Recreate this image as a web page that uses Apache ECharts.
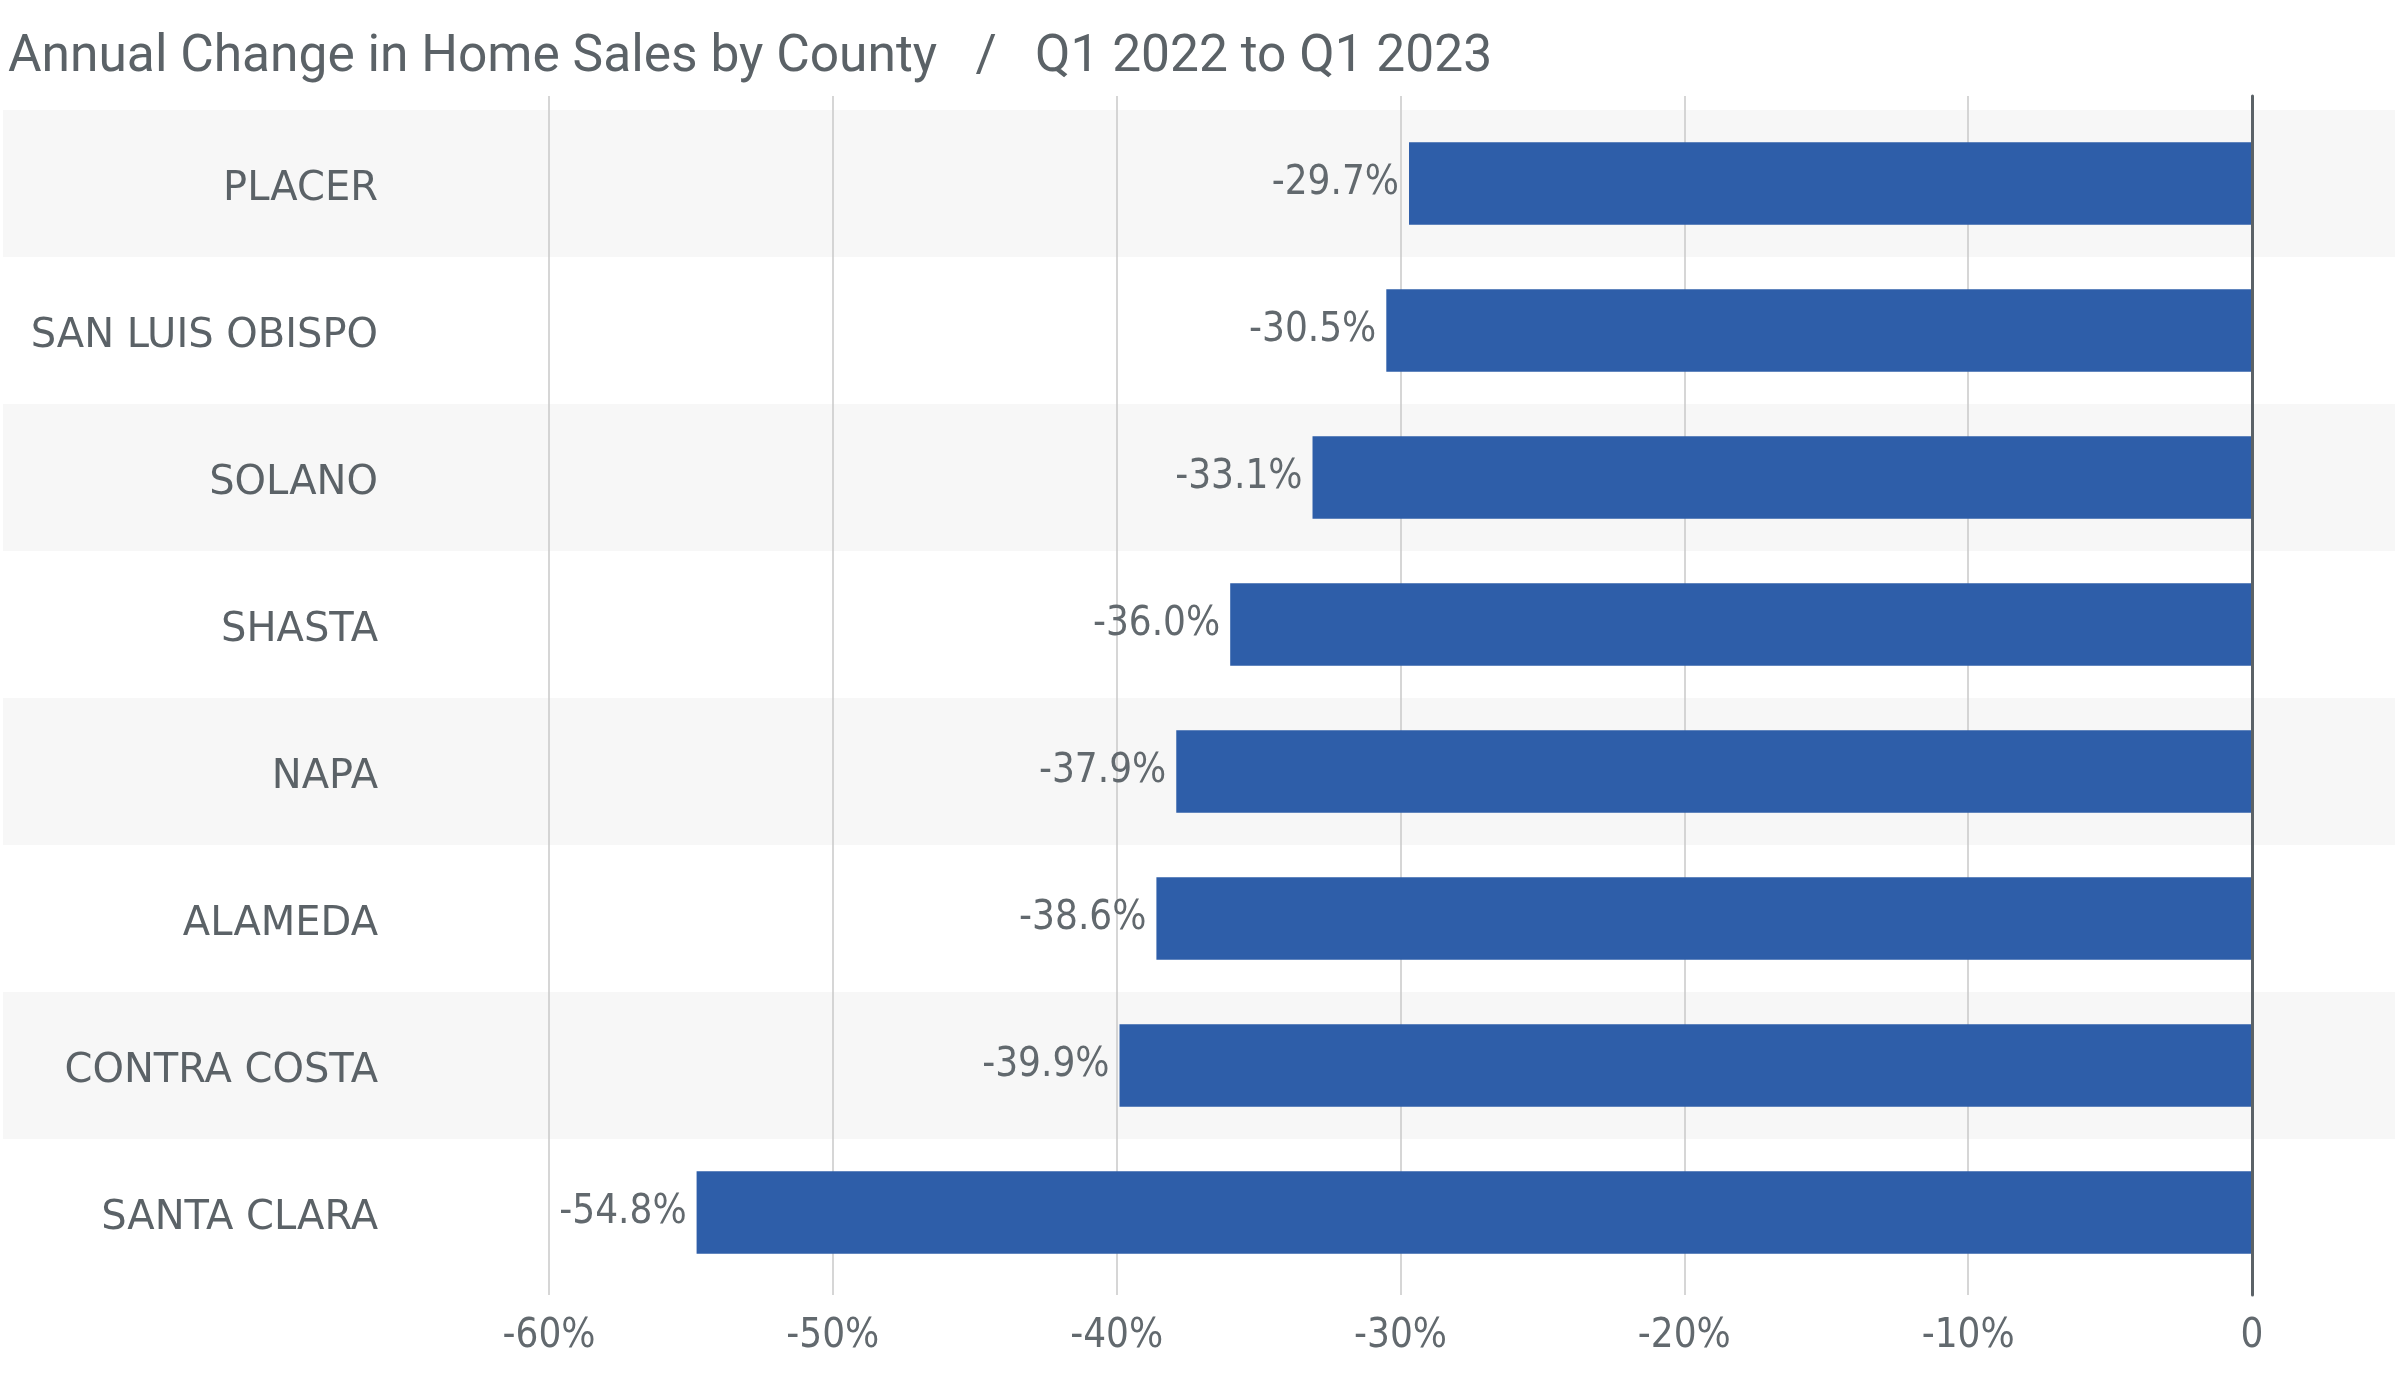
<!DOCTYPE html>
<html>
<head>
<meta charset="utf-8">
<script src="https://cdn.jsdelivr.net/npm/echarts@6/dist/echarts.min.js"></script>
<style>html,body{margin:0;padding:0;background:#fff}#c{width:2400px;height:1383px}</style>
</head>
<body>
<div id="c"></div>
<script>
const counties = ['PLACER', 'SAN LUIS OBISPO', 'SOLANO', 'SHASTA', 'NAPA', 'ALAMEDA', 'CONTRA COSTA', 'SANTA CLARA'];
const changes = [-29.7, -30.5, -33.1, -36.0, -37.9, -38.6, -39.9, -54.8];
const axisMin = -60, axisMax = 0, axisStep = 10;
const titleText = 'Annual Change in Home Sales by County   /   Q1 2022 to Q1 2023';

const grey = '#5b6267';
const narrow = "'DejaVu Sans Condensed', 'Liberation Sans Narrow', 'Roboto Condensed', 'Arial Narrow', sans-serif";
const chart = echarts.init(document.getElementById('c'));
chart.setOption({
  animation: false,
  backgroundColor: '#ffffff',
  title: {
    text: titleText, left: 3, top: 27,
    textStyle: { fontFamily: 'Roboto', fontWeight: 'normal', fontSize: 51.5, color: grey }
  },
  grid: [
    { left: 549, right: 148, top: 96, bottom: 88 },
    { left: 549, right: 148, top: 110, height: 1176 },
    { left: 3, right: 5, top: 110, height: 1176 }
  ],
  xAxis: [
    { gridIndex: 0, type: 'value', min: axisMin, max: axisMax, interval: axisStep, z: 1,
      axisLine: { show: false }, axisTick: { show: false }, axisLabel: { show: false },
      splitLine: { show: true, lineStyle: { color: '#c8c8c8', width: 1.5 } } },
    { gridIndex: 1, type: 'value', min: axisMin, max: axisMax, interval: axisStep, z: 2,
      axisLine: { show: false }, axisTick: { show: false }, splitLine: { show: false },
      axisLabel: { margin: 31, fontFamily: narrow, fontSize: 40, color: '#62696e',
        formatter: v => v === 0 ? '0' : v + '%' } },
    { gridIndex: 2, type: 'value', show: false, min: 0, max: 1 }
  ],
  yAxis: [
    { gridIndex: 0, type: 'category', data: counties, inverse: true, position: 'right', z: 3,
      axisLine: { show: true, onZero: false, lineStyle: { color: '#5b6267', width: 3 } },
      axisTick: { show: false }, axisLabel: { show: false }, splitLine: { show: false } },
    { gridIndex: 1, type: 'category', data: counties, inverse: true, z: 2,
      axisLine: { show: false }, axisTick: { show: false },
      axisLabel: { margin: 171, formatter: v => '{c|' + v + '}',
        rich: { c: { fontFamily: 'DejaVu Sans', fontSize: 40, color: grey, padding: [12, 0, 0, 0] } } } },
    { gridIndex: 2, type: 'category', data: counties, inverse: true, z: 0,
      axisLine: { show: false }, axisTick: { show: false }, axisLabel: { show: false },
      splitArea: { show: true, areaStyle: { color: ['#f7f7f7', '#ffffff'] } } }
  ],
  series: [{
    type: 'bar', xAxisIndex: 1, yAxisIndex: 1, data: changes, z: 2,
    barWidth: '56%',
    itemStyle: { color: '#2e5ea9' },
    label: { show: true, position: 'left', distance: 10,
      fontFamily: narrow, fontSize: 40, color: '#62696e',
      formatter: p => p.value.toFixed(1) + '%' }
  }]
});
</script>
</body>
</html>
